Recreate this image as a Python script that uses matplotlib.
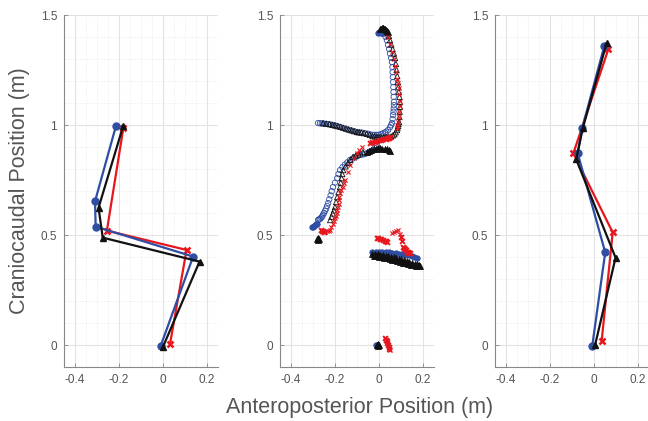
import matplotlib.pyplot as plt
from matplotlib.ticker import MultipleLocator

plt.rcParams["font.family"] = ["Liberation Sans", "DejaVu Sans"]

BLUE = "#2f4ea3"
RED = "#e8161c"
BLACK = "#111111"

# left panel: segment chains
p1_blue_x = [-0.214, -0.309, -0.306, 0.137, -0.011]
p1_blue_y = [0.995, 0.653, 0.538, 0.402, -0.005]
p1_black_x = [-0.181, -0.293, -0.274, 0.166, 0.0]
p1_black_y = [0.995, 0.624, 0.488, 0.379, -0.008]
p1_red_x = [-0.18, -0.255, 0.107, 0.032]
p1_red_y = [0.988, 0.52, 0.432, 0.005]

# right panel
p3_blue_x = [0.047, -0.054, -0.074, 0.051, -0.008]
p3_blue_y = [1.359, 0.985, 0.871, 0.421, -0.005]
p3_black_x = [0.057, -0.051, -0.081, 0.098, 0.005]
p3_black_y = [1.371, 0.985, 0.844, 0.397, 0.0]
p3_red_x = [0.065, -0.094, 0.085, 0.035]
p3_red_y = [1.344, 0.871, 0.512, 0.02]

# middle panel: sparse marker trajectories (open markers)
p2_blue_x = [0.03, 0.036, 0.041, 0.046, 0.05, 0.055, 0.059, 0.061, 0.062, 0.063, 0.064, 0.065, 0.066, 0.067, 0.068,
             0.068, 0.067, 0.066, 0.064, 0.062, 0.059, 0.055, 0.05, 0.041, 0.033, 0.027, 0.018, 0.01, 0.0, -0.01, -0.02,
             -0.027, -0.04, -0.05, -0.063, -0.075, -0.088, -0.1, -0.113, -0.125, -0.138, -0.15, -0.163, -0.177, -0.19,
             -0.2, -0.21, -0.22, -0.23, -0.24, -0.25, -0.26, -0.268, -0.277,
             -0.01, -0.018, -0.027, -0.036, -0.045, -0.055, -0.065, -0.075, -0.086, -0.098, -0.11, -0.121, -0.132,
             -0.144, -0.155, -0.166, -0.177, -0.184, -0.19, -0.2, -0.209, -0.215, -0.22, -0.226, -0.231, -0.236, -0.24,
             -0.245, -0.25, -0.254, -0.258, -0.262, -0.266, -0.27, -0.274, -0.277]
p2_blue_y = [1.4, 1.385, 1.364, 1.345, 1.325, 1.305, 1.286, 1.263, 1.24, 1.218, 1.195, 1.172, 1.15, 1.128, 1.105,
             1.09, 1.075, 1.06, 1.045, 1.027, 1.009, 0.999, 0.99, 0.977, 0.97, 0.966, 0.962, 0.958, 0.956, 0.955, 0.955,
             0.955, 0.957, 0.96, 0.962, 0.965, 0.966, 0.968, 0.972, 0.975, 0.978, 0.982, 0.986, 0.991, 0.995,
             0.998, 1.0, 1.002, 1.004, 1.005, 1.006, 1.007, 1.008, 1.009,
             0.905, 0.895, 0.886, 0.881, 0.876, 0.872, 0.868, 0.866, 0.864, 0.858, 0.853, 0.847, 0.841,
             0.83, 0.82, 0.808, 0.795, 0.777, 0.758, 0.738, 0.718, 0.699, 0.68, 0.662, 0.645, 0.632, 0.62,
             0.61, 0.6, 0.593, 0.585, 0.58, 0.575, 0.572, 0.57, 0.568]

p2_black_x = [0.045, 0.05, 0.056, 0.062, 0.068, 0.073, 0.077, 0.08, 0.083, 0.086, 0.088, 0.09, 0.093, 0.095, 0.095,
              0.094, 0.093, 0.091, 0.089, 0.087, 0.084, 0.082, 0.076, 0.07, 0.063, 0.055, 0.045, 0.036, 0.028, 0.02,
              0.01, 0.0, -0.009, -0.02, -0.03, -0.042, -0.055, -0.068, -0.08, -0.09, -0.1, -0.113, -0.125, -0.138, -0.15,
              -0.163, -0.175, -0.188, -0.2, -0.212, -0.225, -0.24, -0.254,
              -0.073, -0.084, -0.095, -0.106, -0.118, -0.13, -0.14, -0.152, -0.163, -0.167, -0.17, -0.174, -0.177,
              -0.184, -0.19, -0.195, -0.2, -0.205, -0.21, -0.216, -0.222]
p2_black_y = [1.405, 1.386, 1.366, 1.345, 1.325, 1.305, 1.278, 1.25, 1.222, 1.195, 1.172, 1.15, 1.128, 1.105, 1.083,
              1.06, 1.037, 1.014, 1.005, 0.995, 0.986, 0.977, 0.967, 0.958, 0.953, 0.948, 0.946, 0.945, 0.944, 0.944,
              0.944, 0.945, 0.945, 0.948, 0.95, 0.955, 0.96, 0.963, 0.966, 0.967, 0.968, 0.972, 0.976, 0.98, 0.984,
              0.988, 0.992, 0.995, 0.998, 1.001, 1.004, 1.006, 1.009,
              0.877, 0.872, 0.866, 0.861, 0.855, 0.842, 0.828, 0.812, 0.795, 0.777, 0.758, 0.738, 0.718,
              0.695, 0.672, 0.65, 0.627, 0.612, 0.598, 0.583, 0.568]

p2_red_x = [0.04, 0.05, 0.06, 0.067, 0.072, 0.077, 0.082, 0.086, 0.09, 0.093, 0.095, 0.094, 0.093, 0.09, 0.088, 0.084, 0.08,
            -0.077, -0.09, -0.1, -0.115, -0.13, -0.142, -0.154, -0.16, -0.165, -0.171, -0.177, -0.18, -0.182, -0.184,
            -0.186, -0.19, -0.193, -0.197, -0.2, -0.205, -0.21, -0.216, -0.222, -0.228, -0.235, -0.245,
            0.059, 0.068, 0.075, 0.086, 0.095,
            0.027, 0.05]
p2_red_y = [1.4, 1.37, 1.33, 1.3, 1.27, 1.24, 1.21, 1.19, 1.168, 1.14, 1.11, 1.085, 1.06, 1.037, 1.014, 0.998, 0.985,
            0.9, 0.888, 0.875, 0.848, 0.82, 0.785, 0.75, 0.735, 0.72, 0.705, 0.691, 0.675, 0.66, 0.643,
            0.627, 0.613, 0.6, 0.588, 0.577, 0.563, 0.55, 0.536, 0.523, 0.52, 0.517, 0.515,
            0.509, 0.515, 0.52, 0.523, 0.505,
            0.032, -0.023]

# middle panel: dense clusters where markers pile up (drawn filled)
p2_blue_dense_x = [-0.005, 0.0, 0.005, 0.01, 0.015, 0.02, 0.025,
                   -0.304, -0.3, -0.296, -0.292, -0.288, -0.284,
                   -0.03, -0.015, 0.0, 0.015, 0.03, 0.045, 0.06, 0.075, 0.09, 0.105, 0.12, 0.135, 0.15, 0.16, 0.172,
                   -0.012, -0.008]
p2_blue_dense_y = [1.42, 1.421, 1.421, 1.42, 1.42, 1.419, 1.418,
                   0.536, 0.538, 0.541, 0.544, 0.548, 0.552,
                   0.425, 0.424, 0.424, 0.423, 0.422, 0.421, 0.419, 0.417, 0.415, 0.413, 0.41, 0.407, 0.404, 0.4, 0.395,
                   -0.002, 0.0]
p2_black_dense_x = [0.003, 0.008, 0.012, 0.016, 0.02, 0.024, 0.028, 0.032, 0.036, 0.04,
                    -0.055, -0.045, -0.035, -0.025, -0.015, -0.005, 0.005, 0.015, 0.025, 0.035, 0.045, 0.05,
                    -0.282, -0.277, -0.272, -0.277,
                    -0.03, -0.018, -0.006, 0.006, 0.018, 0.03, 0.042, 0.054, 0.066, 0.078, 0.09, 0.102, 0.114, 0.126,
                    0.138, 0.15, 0.162, 0.172, 0.18, 0.185,
                    -0.025, -0.012, 0.0, 0.012, 0.024, 0.036, 0.048, 0.06, 0.072, 0.084, 0.096, 0.108, 0.12, 0.132,
                    0.144, 0.156, 0.168, 0.178,
                    -0.01, -0.005, 0.0, -0.005]
p2_black_dense_y = [1.435, 1.438, 1.44, 1.441, 1.44, 1.438, 1.435, 1.432, 1.428, 1.424,
                    0.878, 0.884, 0.888, 0.891, 0.893, 0.894, 0.894, 0.893, 0.891, 0.889, 0.886, 0.884,
                    0.482, 0.486, 0.482, 0.476,
                    0.415, 0.414, 0.412, 0.41, 0.408, 0.406, 0.404, 0.401, 0.398, 0.395, 0.392, 0.389, 0.386, 0.383,
                    0.379, 0.375, 0.37, 0.366, 0.362, 0.36,
                    0.405, 0.404, 0.402, 0.4, 0.397, 0.394, 0.391, 0.388, 0.385, 0.381, 0.378, 0.375, 0.371, 0.368,
                    0.365, 0.362, 0.36, 0.357,
                    0.002, 0.006, 0.0, -0.004]
p2_red_dense_x = [-0.04, -0.03, -0.02, -0.01, 0.0, 0.01, 0.02, 0.03, 0.036, 0.04, 0.045, 0.05,
                  -0.262, -0.258, -0.254, -0.25,
                  -0.01, -0.003, 0.004, 0.011, 0.018, 0.025, 0.03, 0.036,
                  0.1, 0.104, 0.109, 0.114, 0.118, 0.123, 0.127, 0.131, 0.135, 0.138, 0.141,
                  0.027, 0.031, 0.035, 0.038, 0.041, 0.044, 0.047]
p2_red_dense_y = [0.918, 0.921, 0.924, 0.927, 0.93, 0.932, 0.935, 0.937, 0.939, 0.94, 0.942, 0.944,
                  0.525, 0.519, 0.516, 0.514,
                  0.486, 0.485, 0.484, 0.482, 0.479, 0.475, 0.472, 0.468,
                  0.49, 0.475, 0.445, 0.44, 0.435, 0.43, 0.423, 0.421, 0.42, 0.419, 0.418,
                  0.032, 0.025, 0.018, 0.01, 0.0, -0.009, -0.016]

x_ticks = [-0.4, -0.2, 0, 0.2]
x_tick_labels = ["-0.4", "-0.2", "0", "0.2"]
y_ticks = [0, 0.5, 1, 1.5]
y_tick_labels = ["0", "0.5", "1", "1.5"]

W, H = 648, 421
fig = plt.figure(figsize=(W / 100, H / 100), dpi=100)
lefts = [64, 280, 495]
axes = [fig.add_axes([l / W, 54 / H, 154 / W, 352 / H]) for l in lefts]

for ax in axes:
    ax.set_xlim(-0.45, 0.25)
    ax.set_ylim(-0.1, 1.5)
    ax.set_xticks(x_ticks)
    ax.set_xticklabels(x_tick_labels)
    ax.set_yticks(y_ticks)
    ax.set_yticklabels(y_tick_labels)
    ax.xaxis.set_minor_locator(MultipleLocator(0.05))
    ax.yaxis.set_minor_locator(MultipleLocator(0.1))
    ax.grid(True, which="major", color="#e3e3e3", linewidth=0.8)
    ax.grid(True, which="minor", color="#e6e6e6", linewidth=0.6, linestyle=":")
    ax.set_axisbelow(True)
    for side in ("top", "right"):
        ax.spines[side].set_visible(False)
    for side in ("left", "bottom"):
        ax.spines[side].set_color("#888888")
        ax.spines[side].set_linewidth(0.8)
    ax.tick_params(which="major", direction="in", length=3, width=0.6, color="#888888",
                   labelcolor="#555555", labelsize=8.5, pad=5)
    ax.tick_params(which="minor", length=0)

line_kw = dict(linewidth=1.6, markersize=5)
for ax, (bx, by, kx, ky, rx, ry) in zip(
        [axes[0], axes[2]],
        [(p1_blue_x, p1_blue_y, p1_black_x, p1_black_y, p1_red_x, p1_red_y),
         (p3_blue_x, p3_blue_y, p3_black_x, p3_black_y, p3_red_x, p3_red_y)]):
    ax.plot(rx, ry, color=RED, marker="x", markeredgewidth=1.8, **line_kw)
    ax.plot(bx, by, color=BLUE, marker="o", **line_kw)
    ax.plot(kx, ky, color=BLACK, marker="^", **line_kw)

ax = axes[1]
ax.scatter(p2_blue_x, p2_blue_y, s=15, facecolors="none", edgecolors=BLUE, linewidths=0.6)
ax.scatter(p2_blue_dense_x, p2_blue_dense_y, s=15, color=BLUE, linewidths=0.6)
ax.scatter(p2_black_x, p2_black_y, s=15, marker="^", facecolors="none", edgecolors=BLACK, linewidths=0.6)
ax.scatter(p2_black_dense_x, p2_black_dense_y, s=18, marker="^", color=BLACK, linewidths=0.6)
ax.scatter(p2_red_x, p2_red_y, s=9, marker="x", color=RED, linewidths=0.8)
ax.scatter(p2_red_dense_x, p2_red_dense_y, s=12, marker="x", color=RED, linewidths=1.4)

fig.text(20 / W, (421 - 191) / H, "Craniocaudal Position (m)", rotation=90,
         ha="center", va="center", fontsize=15.5, color="#555555")
fig.text(360 / W, (421 - 408) / H, "Anteroposterior Position (m)", ha="center", va="center",
         fontsize=15.5, color="#555555")

fig.savefig("out.png", dpi=100)
